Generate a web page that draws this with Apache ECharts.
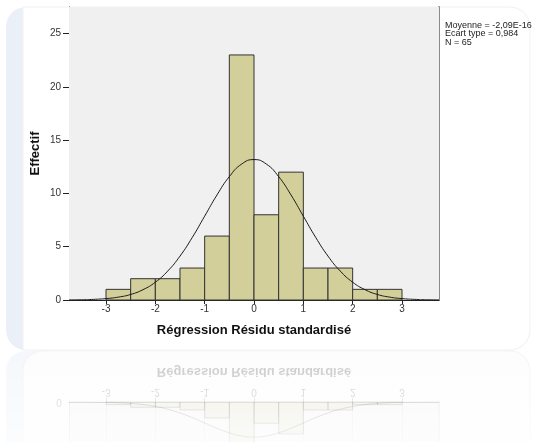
<!DOCTYPE html>
<html>
<head>
<meta charset="utf-8">
<script src="https://cdn.jsdelivr.net/npm/echarts@6/dist/echarts.min.js"></script>
<style>
html,body{margin:0;padding:0;background:#ffffff;}
#chart{width:536px;height:442px;}
</style>
</head>
<body>
<div id="chart"></div>
<script>
// ---- data ----
const binEdges = [-3, -2.5, -2, -1.5, -1, -0.5, 0, 0.5, 1, 1.5, 2, 2.5, 3];
const counts = [1, 2, 2, 3, 6, 23, 8, 12, 3, 3, 1, 1];
const curveX = [-3.75, -3.5, -3.25, -3, -2.75, -2.5, -2.25, -2, -1.75, -1.5, -1.25, -1, -0.75, -0.5, -0.25, 0,
                0.25, 0.5, 0.75, 1, 1.25, 1.5, 1.75, 2, 2.25, 2.5, 2.75, 3, 3.25, 3.5, 3.75];
const curveY = [0.01, 0.02, 0.06, 0.13, 0.27, 0.52, 0.97, 1.67, 2.71, 4.12, 5.88, 7.87, 9.86, 11.58, 12.76, 13.18,
                12.76, 11.58, 9.86, 7.87, 5.88, 4.12, 2.71, 1.67, 0.97, 0.52, 0.27, 0.13, 0.06, 0.02, 0.01];
const xTicks = [-3, -2, -1, 0, 1, 2, 3];
const yTicks = [0, 5, 10, 15, 20, 25];
const xTitle = 'Régression Résidu standardisé';
const yTitle = 'Effectif';
const statsLines = ['Moyenne = -2,09E-16', 'Ecart type = 0,984', 'N = 65'];

const histData = counts.map((c, i) => [binEdges[i], binEdges[i + 1], c]);
const curveData = curveX.map((x, i) => [x, curveY[i]]);

const FONT = '"Liberation Sans", Arial, sans-serif';

function histRender(opacity) {
  return function (params, api) {
    const p0 = api.coord([api.value(0), 0]);
    const p1 = api.coord([api.value(1), api.value(2)]);
    return {
      type: 'rect',
      shape: { x: p0[0], y: Math.min(p0[1], p1[1]), width: p1[0] - p0[0], height: Math.abs(p0[1] - p1[1]) },
      style: { fill: '#d3cf9a', stroke: '#333333', lineWidth: 1, opacity: opacity }
    };
  };
}

const chart = echarts.init(document.getElementById('chart'), null, { renderer: 'canvas' });

const option = {
  animation: false,
  backgroundColor: '#ffffff',
  grid: [
    { left: 69, right: 97, top: 7, bottom: 142, show: true, backgroundColor: '#f0f0f0', borderWidth: 0, z: 1 },
    { left: 69, right: 97, top: 402, height: 293, show: true, backgroundColor: 'rgba(240,240,240,0.3)', borderWidth: 0, z: 1 }
  ],
  xAxis: [
    {
      type: 'value', gridIndex: 0, min: -3.75, max: 3.75, name: xTitle,
      axisLine: { show: true, onZero: false, lineStyle: { color: '#222', width: 1 } },
      axisTick: { show: true, length: 4, customValues: xTicks, lineStyle: { color: '#222' } },
      axisLabel: { customValues: xTicks, margin: 4, color: '#333', fontSize: 10, fontFamily: FONT },
      splitLine: { show: false },
      nameLocation: 'middle', nameGap: 24,
      nameTextStyle: { fontWeight: 'bold', fontSize: 13, color: '#111', fontFamily: FONT }
    },
    {
      type: 'value', gridIndex: 1, min: -3.75, max: 3.75, position: 'top', name: '',
      axisLine: { show: true, onZero: false, lineStyle: { color: '#222', width: 1, opacity: 0.18 } },
      axisTick: { show: true, length: 4, customValues: xTicks, lineStyle: { color: '#222', opacity: 0.18 } },
      axisLabel: { show: false, customValues: xTicks },
      splitLine: { show: true, lineStyle: { color: '#222', opacity: 0.08 } }
    }
  ],
  yAxis: [
    {
      type: 'value', gridIndex: 0, min: 0, max: 27.5, name: yTitle,
      axisLine: { show: true, onZero: false, lineStyle: { color: '#222', width: 1 } },
      axisTick: { show: true, length: 6, customValues: yTicks, lineStyle: { color: '#222' } },
      axisLabel: { customValues: yTicks, margin: 8, color: '#333', fontSize: 10, fontFamily: FONT },
      splitLine: { show: false },
      nameLocation: 'middle', nameGap: 27, nameRotate: 90, nameMoveOverlap: false,
      nameTextStyle: { fontWeight: 'bold', fontSize: 13, color: '#111', fontFamily: FONT }
    },
    {
      type: 'value', gridIndex: 0, min: 0, max: 27.5, position: 'right', name: '',
      axisLine: { show: true, onZero: false, lineStyle: { color: '#8a8a8a', width: 2 } },
      axisTick: { show: false }, axisLabel: { show: false }, splitLine: { show: false }
    },
    {
      type: 'value', gridIndex: 1, min: 0, max: 27.5, inverse: true, name: '',
      axisLine: { show: true, onZero: false, lineStyle: { color: '#222', width: 1, opacity: 0.12 } },
      axisTick: { show: false }, axisLabel: { show: false }, splitLine: { show: false }
    },
    {
      type: 'value', gridIndex: 1, min: 0, max: 27.5, inverse: true, position: 'right', name: '',
      axisLine: { show: true, onZero: false, lineStyle: { color: '#8a8a8a', width: 2, opacity: 0.12 } },
      axisTick: { show: false }, axisLabel: { show: false }, splitLine: { show: false }
    }
  ],
  series: [
    { type: 'custom', xAxisIndex: 0, yAxisIndex: 0, renderItem: histRender(1), data: histData, z: 2 },
    { type: 'line', xAxisIndex: 0, yAxisIndex: 0, data: curveData, smooth: true, symbol: 'none',
      lineStyle: { color: '#1a1a1a', width: 1 }, z: 3 },
    { type: 'custom', xAxisIndex: 1, yAxisIndex: 2, renderItem: histRender(0.2), data: histData, z: 2 },
    { type: 'line', xAxisIndex: 1, yAxisIndex: 2, data: curveData, smooth: true, symbol: 'none',
      lineStyle: { color: '#1a1a1a', width: 1, opacity: 0.22 }, z: 3 }
  ]
};

chart.setOption(option);

// Panels, stats text and mirrored (reflected) labels
const g = [];
// main panel: blue left strip + white body
g.push({ type: 'rect', z: -10, shape: { x: 6, y: 7, width: 524, height: 343, r: 20 },
  style: { fill: '#ebf0f8' } });
g.push({ type: 'rect', z: -9, shape: { x: 23, y: 7, width: 507, height: 343, r: [0, 20, 20, 0] },
  style: { fill: '#ffffff', stroke: '#f1f1f1', lineWidth: 1 } });
// reflected panel (faint)
g.push({ type: 'rect', z: -10, shape: { x: 6, y: 351, width: 524, height: 120, r: 20 },
  style: { fill: '#f3f6fb' } });
g.push({ type: 'rect', z: -9, shape: { x: 23, y: 351, width: 507, height: 120, r: [20, 20, 0, 0] },
  style: { fill: '#fdfdfd', stroke: '#f3f3f3', lineWidth: 1 } });

// stats text
g.push({ type: 'text', z: 20, x: 445, y: 21,
  style: { text: statsLines.join('\n'), fontSize: 9, lineHeight: 8.5, fill: '#222', fontFamily: FONT } });

// reflected tick labels & title
const axisY = chart.convertToPixel({ yAxisIndex: 2 }, 0);
xTicks.forEach(v => {
  const p = chart.convertToPixel({ xAxisIndex: 1 }, v);
  g.push({ type: 'text', z: 20, x: p, y: axisY - 10, scaleY: -1,
    style: { text: String(v), fontSize: 10, fill: 'rgba(60,60,60,0.28)', align: 'center', verticalAlign: 'middle', fontFamily: FONT } });
});
const leftX = chart.convertToPixel({ xAxisIndex: 1 }, -3.75);
const rightX = chart.convertToPixel({ xAxisIndex: 1 }, 3.75);
g.push({ type: 'text', z: 20, x: leftX - 10, y: axisY, scaleY: -1,
  style: { text: String(yTicks[0]), fontSize: 10, fill: 'rgba(60,60,60,0.28)', align: 'center', verticalAlign: 'middle', fontFamily: FONT } });
g.push({ type: 'text', z: 20, x: (leftX + rightX) / 2, y: axisY - 30, scaleY: -1,
  style: { text: xTitle, fontSize: 13, fontWeight: 'bold', fill: 'rgba(20,20,20,0.25)', align: 'center', verticalAlign: 'middle', fontFamily: FONT } });

// fade overlay on reflection
g.push({ type: 'rect', z: 30, shape: { x: 0, y: 351, width: 536, height: 91 },
  style: { fill: new echarts.graphic.LinearGradient(0, 0, 0, 1, [
    { offset: 0, color: 'rgba(255,255,255,0.1)' },
    { offset: 1, color: 'rgba(255,255,255,0.7)' }
  ]) } });

chart.setOption({ graphic: g });
</script>
</body>
</html>
